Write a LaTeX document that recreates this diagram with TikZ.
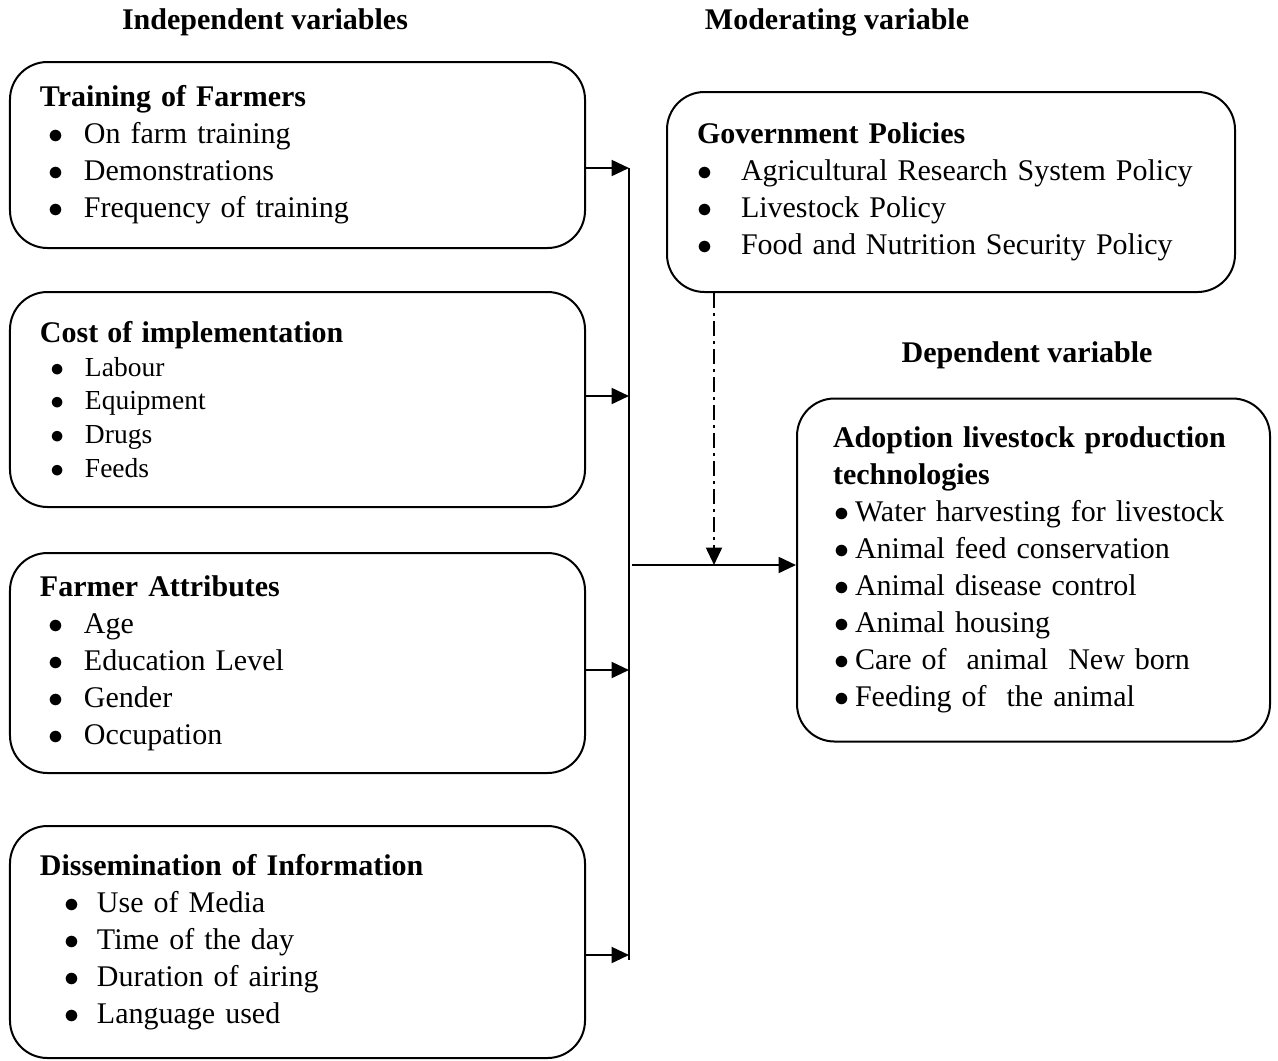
\documentclass[tikz,border=0pt]{standalone}
\usepackage{fontspec}
\setmainfont{Liberation Serif}
\usetikzlibrary{arrows.meta, positioning, calc}

% bullet with indent before it and room up to the text
\newcommand{\bul}[2]{\hspace*{#1}\makebox[#2][l]{$\bullet$}}

\begin{document}
\begin{tikzpicture}[
    x=0.4pt, y=-0.4pt,
    box/.style={draw, line width=0.8pt, rounded corners=15pt, align=left,
        inner xsep=12pt, inner ysep=0pt, font=\fontsize{12}{14.8}\selectfont},
    head/.style={font=\fontsize{12}{14.8}\selectfont\bfseries},
    arrow/.style={line width=0.9pt, -{Triangle[length=7pt,width=6.4pt]}},
    modarrow/.style={arrow, dash pattern=on 6pt off 2pt on 1.2pt off 2pt}
]
\useasboundingbox (0,0) rectangle (1278,1060);

% headings
\node[head] (hind) at (265,22) {Independent variables};
\node[head] (hmod) at (837,22) {Moderating variable};
\node[head] (hdep) at (1027,355) {Dependent variable};

% independent variables
\node[box, minimum width=230pt, minimum height=74.4pt, text width=206pt] (train) at (297.5,155) {%
  \textbf{Training of Farmers}\\
  \bul{3.4pt}{14.2pt}On farm training\\
  \bul{3.4pt}{14.2pt}Demonstrations\\
  \bul{3.4pt}{14.2pt}Frequency of training};
\node[box, minimum width=230pt, minimum height=86pt, text width=206pt,
    font=\fontsize{11}{13.5}\selectfont] (cost) at (297.5,399.5) {%
  {\fontsize{12}{14.8}\selectfont\bfseries Cost of implementation}\\
  \bul{4.2pt}{13.8pt}Labour\\
  \bul{4.2pt}{13.8pt}Equipment\\
  \bul{4.2pt}{13.8pt}Drugs\\
  \bul{4.2pt}{13.8pt}Feeds};
\node[box, minimum width=230pt, minimum height=88pt, text width=206pt] (attr) at (297.5,663) {%
  \textbf{Farmer Attributes}\\
  \bul{3.4pt}{14.2pt}Age\\
  \bul{3.4pt}{14.2pt}Education Level\\
  \bul{3.4pt}{14.2pt}Gender\\
  \bul{3.4pt}{14.2pt}Occupation};
\node[box, minimum width=230pt, minimum height=92.8pt, text width=206pt] (diss) at (297.5,942) {%
  \textbf{Dissemination of Information}\\
  \bul{9.8pt}{13pt}Use of Media\\
  \bul{9.8pt}{13pt}Time of the day\\
  \bul{9.8pt}{13pt}Duration of airing\\
  \bul{9.8pt}{13pt}Language used};

% moderating variable
\node[box, minimum width=227.2pt, minimum height=80pt, text width=203.2pt] (gov) at (951,192) {%
  \textbf{Government Policies}\\
  \bul{0pt}{17.6pt}Agricultural Research System Policy\\
  \bul{0pt}{17.6pt}Livestock Policy\\
  \bul{0pt}{17.6pt}Food and Nutrition Security Policy\\[4pt]};

% dependent variable
\node[box, inner xsep=14.4pt, minimum width=189.2pt, minimum height=137.2pt, text width=160.4pt] (adopt) at (1033.5,570) {%
  \textbf{Adoption livestock production}\\
  \textbf{technologies}\\
  \bul{0.6pt}{8.2pt}Water harvesting for livestock\\
  \bul{0.6pt}{8.2pt}Animal feed conservation\\
  \bul{0.6pt}{8.2pt}Animal disease control\\
  \bul{0.6pt}{8.2pt}Animal housing\\
  \bul{0.6pt}{8.2pt}Care of \ animal \ New born\\
  \bul{0.6pt}{8.2pt}Feeding of \ the animal};

% collecting line
\coordinate (bustop) at (629,168);
\coordinate (busbot) at (629,960);
\coordinate (j2) at (629,396);
\coordinate (j3) at (629,670);
\coordinate (j4) at (629,955);
\coordinate (mainstart) at (632,565);
\coordinate (mod) at (714,565);

\draw[line width=0.8pt] (bustop) -- (busbot);
\draw[arrow] (train.east |- bustop) -- (bustop);
\draw[arrow] (cost.east |- j2) -- (j2);
\draw[arrow] (attr.east |- j3) -- (j3);
\draw[arrow] (diss.east |- j4) -- (j4);
\draw[arrow] (mainstart) -- (adopt.west |- mainstart);
\draw[modarrow] (gov.south -| mod) -- (mod);

\end{tikzpicture}
\end{document}
